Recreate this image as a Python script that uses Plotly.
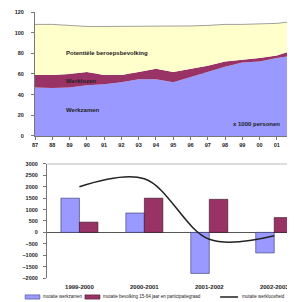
import plotly.graph_objects as go

# --- top chart data (x 1000 personen) ---
years = list(range(1987, 2003))
year_labels = ["87", "88", "89", "90", "91", "92", "93", "94", "95", "96", "97", "98", "99", "00", "01", "02"]
werkzamen = [47, 46.5, 47, 49, 50, 52, 55, 55, 52, 57, 62, 67, 71, 72, 75.5, 78]
werklozen = [12, 12.5, 13, 13, 9, 7, 7, 10, 10, 8, 6, 5, 2.5, 3.5, 2.5, 5]
niet_bb = [49, 49, 47, 44, 47, 47, 44, 41, 44, 41.5, 39, 36, 34.5, 33, 31, 28]

# --- bottom chart data ---
periods = ["1999-2000", "2000-2001", "2001-2002", "2002-2003"]
mut_werkzamen = [1500, 850, -1800, -900]
mut_bevolking = [450, 1500, 1450, 650]
mut_werkloosheid = [2000, 2350, -300, -150]
legend_names = ["mutatie werkzamen",
                "mutatie bevolking 15-64 jaar en participatiegraad",
                "mutatie werkloosheid"]

BLUE = "#9999FF"
RED = "#993366"
YELLOW = "#FFFFCC"
TXT = "#222222"
FONT = "Liberation Sans, Arial"

fig = go.Figure()

fig.add_trace(go.Scatter(x=years, y=werkzamen, stackgroup="a", mode="lines",
                         line=dict(width=0, color=BLUE), fillcolor=BLUE,
                         showlegend=False, xaxis="x", yaxis="y"))
fig.add_trace(go.Scatter(x=years, y=werklozen, stackgroup="a", mode="lines",
                         line=dict(width=0, color=RED), fillcolor=RED,
                         showlegend=False, xaxis="x", yaxis="y"))
fig.add_trace(go.Scatter(x=years, y=niet_bb, stackgroup="a", mode="lines",
                         line=dict(width=0.8, color="#888888"), fillcolor=YELLOW,
                         showlegend=False, xaxis="x", yaxis="y"))

fig.add_trace(go.Bar(x=periods, y=mut_werkzamen, marker=dict(color=BLUE, line=dict(color="#333366", width=0.6)),
                     name=legend_names[0], showlegend=False, xaxis="x2", yaxis="y2"))
fig.add_trace(go.Bar(x=periods, y=mut_bevolking, marker=dict(color=RED, line=dict(color="#331122", width=0.6)),
                     name=legend_names[1], showlegend=False, xaxis="x2", yaxis="y2"))
fig.add_trace(go.Scatter(x=periods, y=mut_werkloosheid, mode="lines",
                         line=dict(color="#222222", width=1.5, shape="spline", smoothing=1.0),
                         name=legend_names[2], showlegend=False, xaxis="x2", yaxis="y2"))

tickfont = dict(family=FONT, size=5.5, color=TXT, weight="bold")
lbl = dict(family=FONT, size=6, color=TXT, weight="bold")
legfont = dict(family=FONT, size=4.5, color=TXT)

# hand-made legend row (one line, like the original)
ly = -0.0714
legend_shapes = [
    dict(type="rect", xref="paper", yref="paper", x0=-0.038, x1=0.019, y0=ly - 0.008, y1=ly + 0.008,
         fillcolor=BLUE, line=dict(color="#333366", width=0.5)),
    dict(type="rect", xref="paper", yref="paper", x0=0.192, x1=0.25, y0=ly - 0.008, y1=ly + 0.008,
         fillcolor=RED, line=dict(color="#331122", width=0.5)),
    dict(type="line", xref="paper", yref="paper", x0=0.712, x1=0.781, y0=ly, y1=ly,
         line=dict(color="#222222", width=1.5)),
]
legend_ann = [
    dict(x=0.023, y=ly, xref="paper", yref="paper", text=legend_names[0], showarrow=False,
         xanchor="left", yanchor="middle", font=legfont),
    dict(x=0.254, y=ly, xref="paper", yref="paper", text=legend_names[1], showarrow=False,
         xanchor="left", yanchor="middle", font=legfont),
    dict(x=0.788, y=ly, xref="paper", yref="paper", text=legend_names[2], showarrow=False,
         xanchor="left", yanchor="middle", font=legfont),
]

# the page body adds an 8px offset, so the figure is 8px smaller than the window
fig.update_layout(
    width=287, height=294,
    margin=dict(l=27, r=0, t=4, b=24, autoexpand=False),
    paper_bgcolor="white", plot_bgcolor="white",
    showlegend=False,
    barmode="group", bargap=0.43, bargroupgap=0,
    xaxis=dict(domain=[0, 1], anchor="y", range=[1987, 2002.05],
               tickvals=years, ticktext=year_labels, tickfont=tickfont,
               showline=True, linecolor="#777777", linewidth=1,
               ticks="outside", ticklen=3, tickcolor="#777777", showgrid=False),
    yaxis=dict(domain=[0.534, 1.0], anchor="x", range=[0, 120], dtick=20,
               tickfont=tickfont, showline=True, linecolor="#777777", linewidth=1,
               ticks="outside", ticklen=3, tickcolor="#777777",
               showgrid=True, gridcolor="#BBBBBB", gridwidth=1, zeroline=False,
               ticklabelstandoff=6),
    xaxis2=dict(domain=[0.046, 1], anchor="y2", range=[-0.5, 3.32],
                tickfont=lbl, showline=False, ticks="", showgrid=False, zeroline=False,
                ticklabelstandoff=4),
    yaxis2=dict(domain=[0, 0.4286], anchor="x2", range=[-2000, 3000], dtick=500,
                tickfont=tickfont, showline=True, linecolor="#777777", linewidth=1,
                ticks="outside", ticklen=3, tickcolor="#777777",
                showgrid=False, zeroline=True, zerolinecolor="#555555", zerolinewidth=1,
                ticklabelstandoff=4),
    shapes=[dict(type="line", xref="x2 domain", yref="y2 domain", x0=0, x1=1, y0=1, y1=1,
                 line=dict(color="#BBBBBB", width=1))] + legend_shapes,
    annotations=[
        dict(x=1988.7, y=80, xref="x", yref="y", text="Potentiële beroepsbevolking", showarrow=False,
             xanchor="left", font=lbl),
        dict(x=1988.7, y=53, xref="x", yref="y", text="Werklozen", showarrow=False,
             xanchor="left", font=lbl),
        dict(x=1988.7, y=25, xref="x", yref="y", text="Werkzamen", showarrow=False,
             xanchor="left", font=lbl),
        dict(x=2001.3, y=11.6, xref="x", yref="y", text="x 1000 personen", showarrow=False,
             xanchor="right", font=lbl),
    ] + legend_ann,
)

fig.write_html("out.html")
